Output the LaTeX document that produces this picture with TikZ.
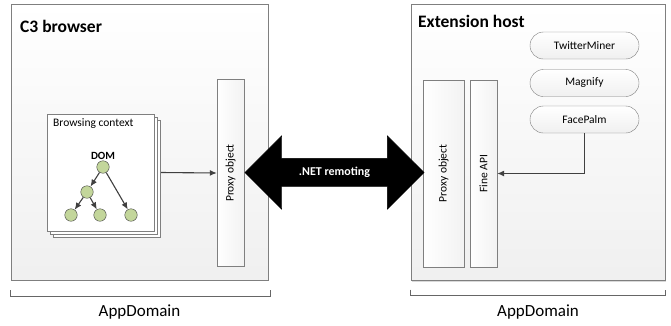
\documentclass[tikz,border=0pt]{standalone}
\usepackage{fontspec}
\setmainfont{Carlito}
\usetikzlibrary{shapes.arrows,shadows,positioning,arrows.meta}

\definecolor{boxline}{HTML}{7F7F7F}
\definecolor{domgreen}{HTML}{C3D69B}
\definecolor{domline}{HTML}{404040}

\tikzset{
  container/.style={draw=boxline, top color=white, bottom color=gray!12, minimum width=#1, minimum height=276pt, inner sep=0pt},
  bar/.style={draw=boxline, left color=white, right color=gray!10, minimum height=187pt, minimum width=#1, inner sep=0pt},
  plugin/.style={draw=boxline, top color=white, bottom color=gray!12, rounded corners=13.5pt, minimum width=109pt, minimum height=27pt, font=\fontsize{11.5}{12}\selectfont},
  domnode/.style={circle, draw=domline, fill=domgreen, minimum size=12.5pt, inner sep=0pt},
  link/.style={-{Latex[length=7pt,width=6pt]}, line width=1.1pt, draw=domline},
  bracket/.style={draw=gray!80!black, line width=1pt},
  vtext/.style={rotate=90, font=\fontsize{11.5}{12}\selectfont}
}

\begin{document}
\begin{tikzpicture}[x=1pt, y=-1pt]
  \useasboundingbox (0,0) rectangle (671,325);

  % Containers
  \node[container=257pt, drop shadow={shadow xshift=1pt, shadow yshift=-1pt, opacity=.3}] (c3) at (139.5,142) {};
  \node[container=254pt, drop shadow={shadow xshift=1pt, shadow yshift=-1pt, opacity=.3}] (ext) at (538,142.5) {};
  \node[anchor=base west, inner sep=0pt, font=\bfseries\fontsize{17.5}{18}\selectfont] (c3title) at (20,32) {C3 browser};
  \node[anchor=base west, inner sep=0pt, font=\bfseries\fontsize{17.5}{18}\selectfont] (exttitle) at (418,27) {Extension host};

  % Proxy objects and API
  \node[bar=27pt] (proxyL) at (230.5,173) {};
  \node[vtext] at (proxyL) {Proxy object};
  \node[bar=41pt] (proxyR) at (443.5,173.5) {};
  \node[vtext] at (proxyR) {Proxy object};
  \node[bar=27pt] (fineapi) at (483.5,173.5) {};
  \node[vtext] at (fineapi) {Fine API};

  % Extensions
  \node[plugin] (twitter) at (584.5,45.5) {TwitterMiner};
  \node[plugin] (magnify) at (584.5,83) {Magnify};
  \node[plugin] (facepalm) at (584.5,119.5) {FacePalm};
  \draw[link] (facepalm.south) |- (fineapi.east);

  % Browsing context stack
  \node[draw=boxline, fill=white, minimum width=107pt, minimum height=117pt,
        double copy shadow={shadow xshift=3pt, shadow yshift=-3pt, draw=boxline, fill=white}] (stack) at (100.5,172.5) {};
  \node[anchor=north west, font=\fontsize{11.5}{12}\selectfont, inner sep=0pt] (bclabel) at (53,118) {Browsing context};
  \node[font=\bfseries\fontsize{11}{12}\selectfont] (domlabel) at (103,156) {DOM};

  % DOM tree
  \node[domnode] (d0) at (103,167) {};
  \node[domnode] (d1) at (87,192) {};
  \node[domnode] (d2) at (71,215) {};
  \node[domnode] (d3) at (100,215) {};
  \node[domnode] (d4) at (131,215) {};
  \draw[link] (d0) -- (d1);
  \draw[link] (d0) -- (d4);
  \draw[link] (d1) -- (d2);
  \draw[link] (d1) -- (d3);

  \draw[link] ([xshift=7pt]stack.east) -- (proxyL.west);

  % Remoting arrow
  \node[double arrow, fill=black, draw=black, text=white, font=\bfseries\fontsize{12}{13}\selectfont,
        minimum height=179pt, double arrow head extend=22.5pt, text height=8.5pt, text depth=2.5pt,
        inner ysep=8.5pt, inner xsep=0pt] (remoting) at (334.5,172.5) {.NET remoting};

  % AppDomain brackets
  \draw[bracket] ([yshift=-10pt]c3.south west) -- ([yshift=-16pt]c3.south west) -- ([xshift=2pt, yshift=-16pt]c3.south east) -- ([xshift=2pt, yshift=-10pt]c3.south east);
  \draw[bracket] ([yshift=-9pt]ext.south west) -- ([yshift=-15pt]ext.south west) -- ([yshift=-15pt]ext.south east) -- ([yshift=-9pt]ext.south east);
  \node[font=\fontsize{17}{18}\selectfont] (appL) at (139.5,312) {AppDomain};
  \node[font=\fontsize{17}{18}\selectfont] (appR) at (538,312) {AppDomain};
\end{tikzpicture}
\end{document}
